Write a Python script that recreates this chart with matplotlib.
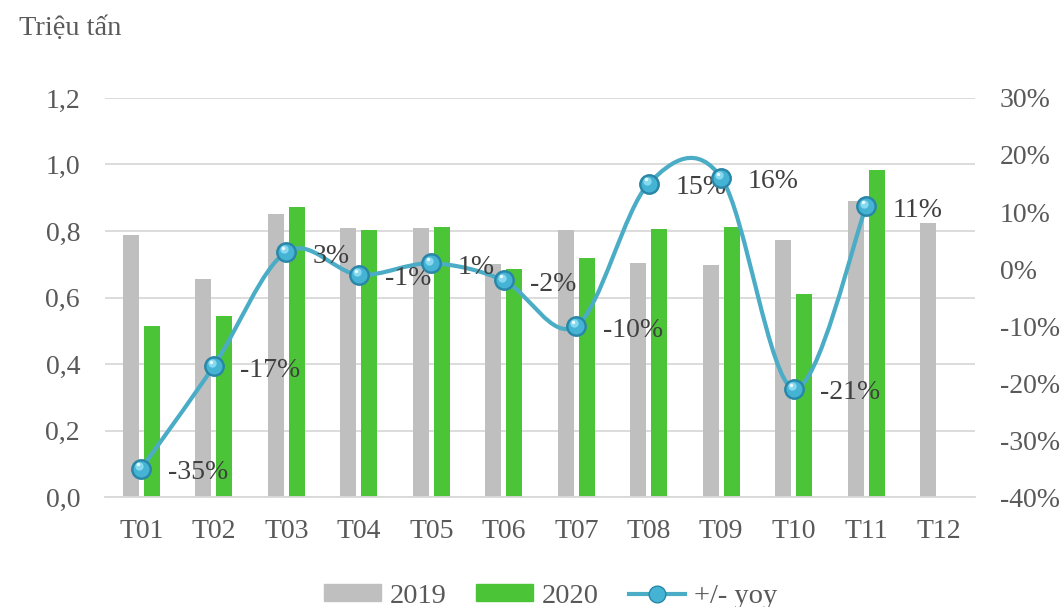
import matplotlib
matplotlib.use("Agg")
import matplotlib.pyplot as plt
import numpy as np
from matplotlib.path import Path
from matplotlib.patches import PathPatch, Patch
from matplotlib.lines import Line2D
from matplotlib.ticker import FuncFormatter, MultipleLocator
import matplotlib.transforms as mtransforms

plt.rcParams['font.family'] = ['Liberation Serif', 'DejaVu Serif']

# Data
months = ["T01", "T02", "T03", "T04", "T05", "T06", "T07", "T08", "T09", "T10", "T11", "T12"]
vol_2019 = [0.788, 0.656, 0.851, 0.810, 0.808, 0.701, 0.803, 0.704, 0.699, 0.773, 0.891, 0.823]
vol_2020 = [0.514, 0.546, 0.873, 0.804, 0.813, 0.686, 0.720, 0.806, 0.812, 0.610, 0.983]
yoy = [-35, -17, 3, -1, 1, -2, -10, 15, 16, -21, 11]

grey = "#BFBFBF"
green = "#4CC437"
line_c = "#4BACC6"
txt = "#595959"
lab_c = "#404040"
FS = 20

fig = plt.figure(figsize=(10.63, 6.07), dpi=100)
ax = fig.add_axes([0.0988, 0.181, 0.8184, 0.6576])
ax2 = ax.twinx()

x = np.arange(len(months))
w = 0.22
off = 0.145
ax.bar(x - off, vol_2019, width=w, color=grey, zorder=2)
ax.bar(x[:len(vol_2020)] + off, vol_2020, width=w, color=green, zorder=2)

ax.set_xlim(-0.5, len(months) - 0.5)
ax.set_ylim(0, 1.2)
ax.yaxis.set_major_locator(MultipleLocator(0.2))
ax.yaxis.set_major_formatter(FuncFormatter(lambda v, p: f"{v:.1f}".replace(".", ",")))
ax.set_xticks(x)
ax.set_xticklabels(months)
ax.grid(axis='y', color="#D9D9D9", linewidth=1.3, zorder=0)
ax.set_axisbelow(True)
for s in ["top", "right", "left"]:
    ax.spines[s].set_visible(False)
    ax2.spines[s].set_visible(False)
ax.spines["bottom"].set_color("#D9D9D9")
ax.spines["bottom"].set_linewidth(1.3)
ax2.spines["bottom"].set_visible(False)
ax.tick_params(axis='both', length=0, labelsize=FS, colors=txt)
ax.tick_params(axis='y', pad=18)
ax.tick_params(axis='x', pad=16)

ax2.set_ylim(-40, 30)
ax2.yaxis.set_major_locator(MultipleLocator(10))
ax2.yaxis.set_major_formatter(FuncFormatter(lambda v, p: f"{v:.0f}%"))
ax2.tick_params(axis='y', length=0, labelsize=FS, colors=txt, pad=18)

# Smoothed line through the yoy points (cubic Bezier, Catmull-Rom control points)
px = x[:len(yoy)].astype(float)
py = np.array(yoy, dtype=float)
n = len(px)
verts = [(px[0], py[0])]
codes = [Path.MOVETO]
for i in range(n - 1):
    p0 = (px[max(i - 1, 0)], py[max(i - 1, 0)])
    p1 = (px[i], py[i])
    p2 = (px[i + 1], py[i + 1])
    p3 = (px[min(i + 2, n - 1)], py[min(i + 2, n - 1)])
    c1 = (p1[0] + (p2[0] - p0[0]) / 6, p1[1] + (p2[1] - p0[1]) / 6)
    c2 = (p2[0] - (p3[0] - p1[0]) / 6, p2[1] - (p3[1] - p1[1]) / 6)
    verts += [c1, c2, p2]
    codes += [Path.CURVE4] * 3
ax2.add_patch(PathPatch(Path(verts, codes), facecolor="none", edgecolor=line_c,
                        linewidth=3.0, zorder=3, capstyle='round'))

# Glossy sphere markers
ax2.plot(px, py, 'o', ms=14, mfc="#2A86A8", mec="#2A86A8", zorder=4)
ax2.plot(px, py, 'o', ms=11.5, mfc="#45B3D4", mec="none", zorder=5)
hl = mtransforms.offset_copy(ax2.transData, fig=fig, x=-1.5, y=2.0, units='points')
ax2.plot(px, py, 'o', ms=6, mfc="#8EDDF2", mec="none", zorder=6, transform=hl, alpha=0.9)
hl2 = mtransforms.offset_copy(ax2.transData, fig=fig, x=-2.2, y=3.0, units='points')
ax2.plot(px, py, 'o', ms=2.5, mfc="#E6FAFF", mec="none", zorder=7, transform=hl2)

# Value labels
for xi, yi in zip(px, py):
    ax2.annotate(f"{yi:.0f}%", (xi, yi), xytext=(19, -3), textcoords='offset points',
                 ha='left', va='center', fontsize=FS, color=lab_c, zorder=3.5)

fig.text(0.018, 0.953, "Triệu tấn", fontsize=20.5, color=txt, ha='left', va='center')

handles = [Patch(color=grey), Patch(color=green),
           Line2D([0], [0], color=line_c, lw=3, marker='o', ms=12,
                  mfc="#45B3D4", mec="#2A86A8")]
fig.legend(handles, ["2019", "2020", "+/- yoy"], loc='lower center', ncol=3,
           bbox_to_anchor=(0.518, -0.045), frameon=False, fontsize=20.5,
           labelcolor=txt, handlelength=2.0, handleheight=0.5,
           handletextpad=0.3, columnspacing=1.05)

fig.savefig("out.png", dpi=100)
